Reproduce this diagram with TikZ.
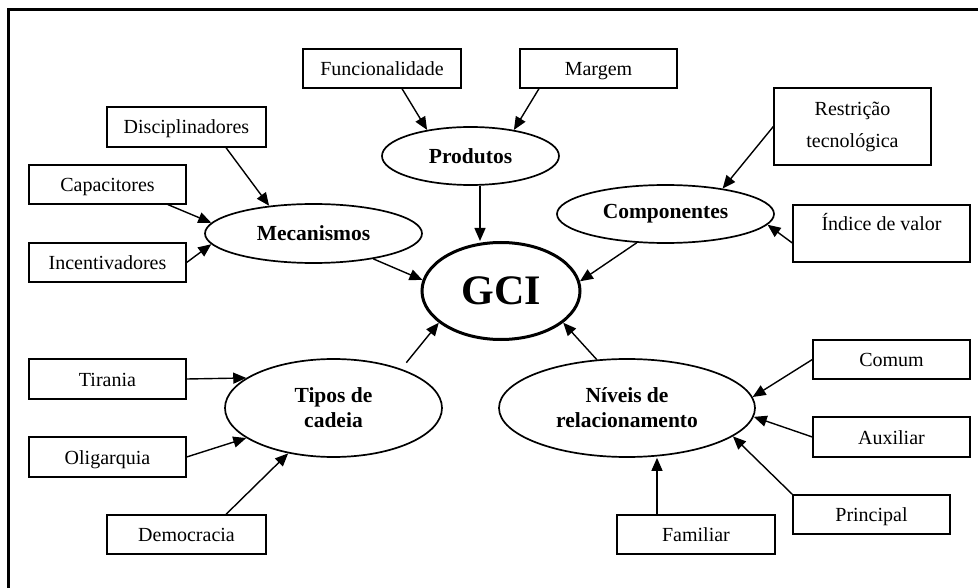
\documentclass[tikz,border=0pt]{standalone}
\usepackage{fontspec}
\setmainfont{Liberation Serif}
\usetikzlibrary{arrows.meta,shapes.geometric}
\begin{document}
\begin{tikzpicture}[x=1pt,y=-1pt,
 boxbase/.style={draw, line width=1.3pt, rectangle, inner sep=0pt, minimum width=157pt, minimum height=39pt, font=\fontsize{20}{32}\selectfont, align=center},
 box/.style={boxbase, text height=18pt, text depth=4pt},
 ell/.style={draw, line width=1.7pt, ellipse, inner sep=0pt, font=\fontsize{21.5}{25}\selectfont\bfseries, align=center},
 arr/.style={line width=1.4pt, -{Triangle[length=13pt,width=11pt]}},
 frame/.style={line width=2.2pt}
]
\useasboundingbox (0,0) rectangle (978,588);
\coordinate (fbl) at (8.5,590);
\coordinate (ftl) at (8.5,9.5);
\coordinate (ftr) at (980,9.5);
\draw[frame] (fbl) -- (ftl) -- (ftr);

% boxes
\node[box, minimum width=158pt] (fun) at (382,68.5) {Funcionalidade};
\node[box] (mar) at (598.5,68.5) {Margem};
\node[box, minimum width=159pt, minimum height=40pt] (dis) at (186.5,127) {Disciplinadores};
\node[box] (cap) at (107.5,184.5) {Capacitores};
\node[box] (inc) at (107.5,262.5) {Incentivadores};
\node[boxbase, minimum height=77pt] (res) at (852.5,126.5) {Restrição\\tecnológica};
\node[box, minimum width=177pt, minimum height=57pt, text height=18pt, text depth=23pt] (ind) at (881.5,233.5) {Índice de valor};
\node[box, minimum height=40pt] (tir) at (107.5,379) {Tirania};
\node[box, minimum height=40pt] (oli) at (107.5,457) {Oligarquia};
\node[box, minimum width=159pt] (dem) at (186.5,534.5) {Democracia};
\node[box] (com) at (891.5,359.5) {Comum};
\node[box, minimum height=40pt] (aux) at (891.5,437) {Auxiliar};
\node[box] (pri) at (871.5,514.5) {Principal};
\node[box, minimum width=158pt] (fam) at (696,534.5) {Familiar};

% ellipses
\node[ell, line width=3pt, minimum width=158pt, minimum height=97pt, font=\fontsize{42}{42}\selectfont\bfseries] (gci) at (501,291) {GCI};
\node[ell, minimum width=217pt, minimum height=59pt] (mec) at (313.5,233.5) {Mecanismos};
\node[ell, minimum width=177pt, minimum height=58pt] (prod) at (470.5,156) {Produtos};
\node[ell, minimum width=217pt, minimum height=58pt] (comp) at (665.5,214) {Componentes};
\node[ell, minimum width=217pt, minimum height=98pt] (tip) at (333.5,408) {Tipos de\\cadeia};
\node[ell, minimum width=256pt, minimum height=98pt] (niv) at (627,408) {Níveis de\\relacionamento};

% arrows
\draw[arr] ([xshift=20pt]fun.south) -- (prod.149);
\draw[arr] ([xshift=-59.5pt]mar.south) -- (prod.31);
\draw[arr] ([xshift=9.5pt]prod.south) -- ([xshift=-21pt]gci.north);
\draw[arr] ([xshift=39.5pt]dis.south) -- (mec.148);
\draw[arr] ([xshift=60.5pt]cap.south) -- (mec.174);
\draw[arr] (inc.east) -- (mec.186);
\draw[arr] (mec.-23) -- (gci.172);
\draw[arr] (res.west) -- (comp.24);
\draw[arr] ([yshift=-9.5pt]ind.west) -- (comp.-6);
\draw[arr] (comp.225) -- (gci.7);
\draw[arr] (tir.east) -- (tip.161);
\draw[arr] (oli.east) -- (tip.199);
\draw[arr] ([xshift=39.5pt]dem.north) -- (tip.225);
\draw[arr, shorten <=8pt] (tip.30) -- (gci.207);
\draw[arr] (niv.122) -- (gci.-27);
\draw[arr] (com.west) -- (niv.5);
\draw[arr] (aux.west) -- (niv.-4);
\draw[arr] (pri.north west) -- (niv.-15);
\draw[arr] ([xshift=-39pt]fam.north) -- ([xshift=30pt]niv.south);
\end{tikzpicture}
\end{document}
